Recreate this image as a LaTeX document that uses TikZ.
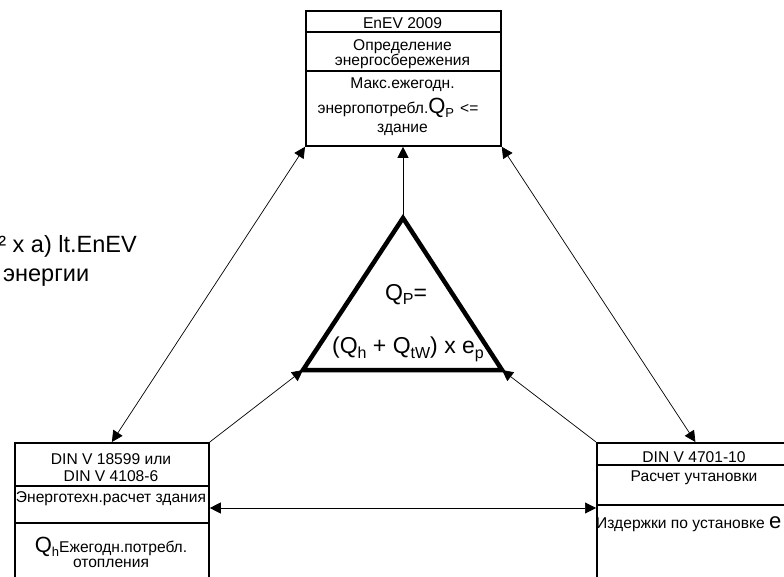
\documentclass[tikz,border=0pt]{standalone}
\usepackage{fontspec}
\setmainfont{Liberation Sans}
\usetikzlibrary{arrows.meta}
\newcommand\LowSub[1]{\raisebox{-4pt}{\fontsize{13}{13}\selectfont #1}}
\newcommand\TriSub[1]{\raisebox{-5pt}{\fontsize{16}{16}\selectfont #1}}
\newcommand\BigQ[2]{{\fontsize{22}{22}\selectfont #1}\LowSub{#2}}
\begin{document}
\begin{tikzpicture}[x=1pt,y=-1pt,
  box/.style={draw, line width=1.8pt, inner sep=0, anchor=north west},
  sep/.style={line width=1.2pt},
  txt/.style={inner sep=0, anchor=base, font=\fontsize{15.6}{16}\selectfont},
  arr/.style={line width=0.7pt, -{Triangle[length=11pt,width=11pt]}},
  darr/.style={line width=0.7pt, {Triangle[length=11pt,width=11pt]}-{Triangle[length=11pt,width=11pt]}},
  big/.style={inner sep=0, font=\fontsize{23.5}{24}\selectfont},
  tri/.style={inner sep=0, anchor=base, font=\fontsize{23}{23}\selectfont}
]
\useasboundingbox (0,0) rectangle (784,577);
% boxes
\node[box, minimum width=195pt, minimum height=135pt] (top) at (305,10) {};
\node[box, minimum width=194pt, minimum height=145pt] (bl) at (14,442) {};
\node[box, minimum width=197pt, minimum height=145pt] (br) at (596,442) {};
\draw[sep] (top.west |- 0,32) -- (top.east |- 0,32);
\draw[sep] (top.west |- 0,71) -- (top.east |- 0,71);
\draw[sep] (bl.west |- 0,486) -- (bl.east |- 0,486);
\draw[sep] (bl.west |- 0,523) -- (bl.east |- 0,523);
\draw[sep] (br.west |- 0,465) -- (br.east |- 0,465);
\draw[sep] (br.west |- 0,505) -- (br.east |- 0,505);
% triangle
\coordinate (ta) at (403,218);
\coordinate (tl) at (303,370);
\coordinate (tr) at (502,370);
\draw[line width=4.5pt, line join=miter] (ta) -- (tl) -- (tr) -- cycle;
% connectors
\draw[arr] (ta) -- (ta |- top.south);
\draw[arr] (bl.north east) -- (tl);
\draw[arr] (br.north west) -- (tr);
\draw[darr] (top.south west) -- (bl.north);
\draw[darr] (top.south east) -- (br.north);
\coordinate (hl) at (bl.east |- 0,508);
\coordinate (hr) at (br.west |- 0,508);
\draw[darr] (hl) -- (hr);
% top box text
\node[txt] (t1) at (402.5,28.3) {EnEV 2009};
\node[txt] (t2) at (402.5,51) {Определение};
\node[txt] (t3) at (402.5,65.7) {энергосбережения};
\node[txt] (t4) at (402.5,89) {Макс.ежегодн.};
\node[txt] (t5) at (398,114) {энергопотребл.\BigQ{Q}{P}\hspace{6pt}<=};
\node[txt] (t6) at (402.5,133) {здание};
% bottom-left text
\node[txt] (b1) at (111,464) {DIN V 18599 или};
\node[txt] (b2) at (111,481) {DIN V 4108-6};
\node[txt] (b3) at (111,502) {Энерготехн.расчет здания};
\node[txt] (b4) at (111,552) {\BigQ{Q}{h}Ежегодн.потребл.};
\node[txt] (b5) at (111,567) {отопления};
% bottom-right text
\node[txt] (r1) at (694,462) {DIN V 4701-10};
\node[txt] (r2) at (694,481) {Расчет учтановки};
\node[txt, anchor=base west] (r3) at (596,528) {Издержки по установке {\fontsize{22}{22}\selectfont e}};
% triangle text
\node[tri] (q1) at (406,300) {Q\TriSub{P}=};
\node[tri] (q2) at (408,353) {(Q\TriSub{h} + Q\TriSub{tW}) x e\TriSub{p}};
% left text
\node[big, anchor=base east] (l1) at (137,253) {² x a) lt.EnEV};
\node[big, anchor=base west] (l2) at (3,282) {энергии};
\end{tikzpicture}
\end{document}
